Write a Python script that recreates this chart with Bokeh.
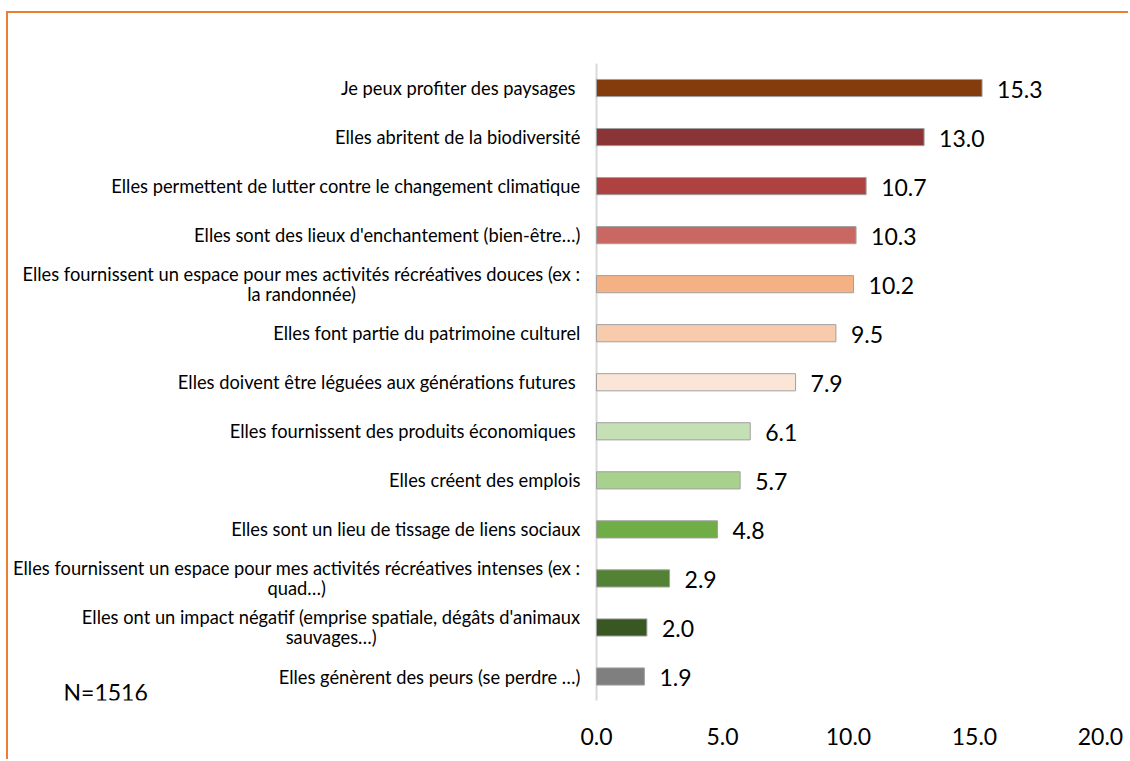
import glob
import subprocess

from bokeh.plotting import figure
from bokeh.models import ColumnDataSource, Range1d, FixedTicker, Label
from bokeh.core.properties import value
from bokeh.embed import file_html
from bokeh.resources import INLINE

# ---------------- data (top to bottom as in the chart) ----------------
categories = [
    "Je peux profiter des paysages ",
    "Elles abritent de la biodiversité",
    "Elles permettent de lutter contre le changement climatique",
    "Elles sont des lieux d'enchantement (bien-être…)",
    "Elles fournissent un espace pour mes activités récréatives douces (ex :\nla randonnée)",
    "Elles font partie du patrimoine culturel",
    "Elles doivent être léguées aux générations futures ",
    "Elles fournissent des produits économiques ",
    "Elles créent des emplois",
    "Elles sont un lieu de tissage de liens sociaux",
    "Elles fournissent un espace pour mes activités récréatives intenses (ex :\nquad…)",
    "Elles ont un impact négatif (emprise spatiale, dégâts d'animaux\nsauvages…)",
    "Elles génèrent des peurs (se perdre …)",
]
values = [15.3, 13.0, 10.7, 10.3, 10.2, 9.5, 7.9, 6.1, 5.7, 4.8, 2.9, 2.0, 1.9]
colors = ["#843C0C", "#8B3436", "#AD4240", "#C96863", "#F4B183", "#F8CBAD",
          "#FBE5D6", "#C5E0B4", "#A9D18E", "#70AD47", "#548235", "#385723",
          "#7F7F7F"]
tick_values = [0, 5, 10, 15, 20]
tick_labels = ["0.0", "5.0", "10.0", "15.0", "20.0"]
sample_note = "N=1516"

# ---------------- styling / layout ----------------
FONT = "Lato"
LABEL_PX = 18.3
VALUE_PX = 23
ORANGE = "#ED7D31"

W, H = 1122, 748
BOTTOM = 61
frame_h = H - BOTTOM
px_x = 25.2            # pixels per unit on x
px_y = 49.04           # pixels per category band
zero_x = 588           # canvas x of value 0
last_y = 663           # canvas y of the lowest bar centre

X0 = -zero_x / px_x
X1 = X0 + W / px_x
Y0 = -(frame_h - last_y) / px_y
Y1 = Y0 + frame_h / px_y


def find_font():
    try:
        out = subprocess.run(["fc-match", "-f", "%{file}", "Lato:style=Regular"],
                             capture_output=True, text=True, timeout=5).stdout.strip()
        if out and "lato" in out.lower():
            return out
    except Exception:
        pass
    for pat in ["/usr/share/fonts/**/Lato-Regular.ttf", "/usr/share/fonts/**/Lato*Reg*.ttf",
                "/usr/local/share/fonts/**/Lato-Regular.ttf"]:
        m = glob.glob(pat, recursive=True)
        if m:
            return m[0]
    return None


measure = None
try:
    from PIL import ImageFont
    fp = find_font()
    if fp:
        _f = ImageFont.truetype(fp, LABEL_PX)
        measure = lambda s: _f.getlength(s)
except Exception:
    measure = None
if measure is None:
    measure = lambda s: len(s) * LABEL_PX * 0.47

n = len(categories)
ypos = [n - 1 - i for i in range(n)]

src = ColumnDataSource(dict(
    y=ypos, value=values, color=colors,
    vlabel=[f"{v:.1f}" for v in values],
))

# category label lines (centred within a right-aligned block)
lx, ly, lt, lxo, lyo = [], [], [], [], []
for cat, yv in zip(categories, ypos):
    lines = cat.split("\n")
    wmax = max(measure(s) for s in lines)
    k = len(lines)
    for j, s in enumerate(lines):
        lx.append(0)
        ly.append(yv)
        lt.append(s)
        lxo.append(-16 - wmax / 2)
        lyo.append((j - (k - 1) / 2) * 20)
lab_src = ColumnDataSource(dict(x=lx, y=ly, text=lt, xo=lxo, yo=lyo))

p = figure(width=W, height=H, output_backend="svg", toolbar_location=None,
           x_range=Range1d(X0, X1), y_range=Range1d(Y0, Y1),
           y_axis_location=None,
           min_border_left=0, min_border_right=0, min_border_top=0,
           min_border_bottom=BOTTOM)
p.margin = (11, 0, 0, 6)
p.styles = {"border-left": f"2px solid {ORANGE}", "border-top": f"2px solid {ORANGE}"}
p.outline_line_color = None
p.xgrid.visible = False
p.ygrid.visible = False
p.background_fill_color = "white"
p.border_fill_color = "white"

ax = p.xaxis[0]
ax.ticker = FixedTicker(ticks=tick_values)
ax.major_label_overrides = {v: l for v, l in zip(tick_values, tick_labels)}
ax.axis_line_color = None
ax.major_tick_line_color = None
ax.minor_tick_line_color = None
ax.major_label_text_font = FONT
ax.major_label_text_font_size = f"{VALUE_PX}px"
ax.major_label_text_color = "black"
ax.major_label_standoff = 21

# vertical category axis line
p.segment(x0=[0], y0=[-0.5], x1=[0], y1=[n - 0.5], line_color="#D9D9D9", line_width=2)

p.hbar(y="y", left=0, right="value", height=0.35, fill_color="color",
       line_color="#A0A0A0", line_width=1, source=src)

p.text(x="value", y="y", text="vlabel", source=src, x_offset=15, y_offset=1,
       text_align="left", text_baseline="middle", text_font=value(FONT),
       text_font_size=f"{VALUE_PX}px", text_color="black")

p.text(x="x", y="y", text="text", source=lab_src, x_offset="xo", y_offset="yo",
       text_align="center", text_baseline="middle", text_font=value(FONT),
       text_font_size=f"{LABEL_PX}px", text_color="black")

p.add_layout(Label(x=55, y=9, x_units="screen", y_units="screen", text=sample_note,
                   text_baseline="middle", text_font=FONT,
                   text_font_size=f"{VALUE_PX}px", text_color="black"))

open("out.html", "w").write(file_html(p, INLINE))
